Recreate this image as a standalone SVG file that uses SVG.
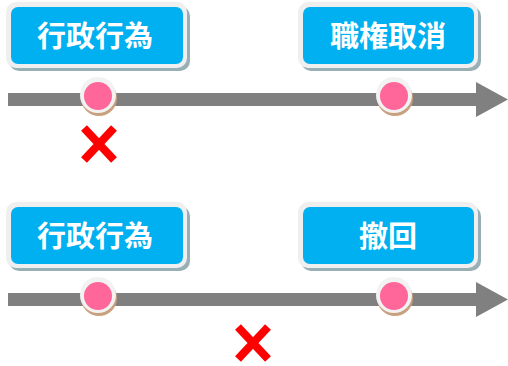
<svg xmlns="http://www.w3.org/2000/svg" width="508" height="366" viewBox="0 0 508 366">
<style>
.sh{fill:#98afb6}
.rim{fill:#efefef}
.box{fill:#00b0f0}
.lbl{font-family:"Noto Sans CJK JP","Noto Sans CJK SC",sans-serif;font-weight:bold;font-size:29px;fill:#ffffff;text-anchor:middle}
.bar{fill:#808080}
.dsh{fill:#c9a07e}
.dr{fill:#f2f2f2}
.dp{fill:#ff6699}
.x{stroke:#ff0000;stroke-width:8;fill:none}
</style>
<rect width="508" height="366" fill="#ffffff"/>
<g id="connectors">
<g id="arrow1">
<rect class="bar" x="8" y="93" width="470" height="13"/>
<polygon class="bar" points="476,82 508,99.5 476,117"/>
</g>
<g id="arrow2">
<rect class="bar" x="8" y="293" width="470" height="13"/>
<polygon class="bar" points="476,282 508,299.5 476,317"/>
</g>
</g>
<g id="box1">
<rect class="sh" x="9" y="6" width="181" height="65" rx="10"/>
<rect class="rim" x="6" y="2" width="181" height="66" rx="10"/>
<rect class="box" x="11" y="7" width="172" height="57" rx="7"/>
<text class="lbl" x="95" y="47">行政行為</text>
</g>
<g id="box2">
<rect class="sh" x="301" y="6" width="180" height="65" rx="10"/>
<rect class="rim" x="298" y="2" width="180" height="66" rx="10"/>
<rect class="box" x="303" y="7" width="171" height="57" rx="7"/>
<text class="lbl" x="388" y="47">職権取消</text>
</g>
<g id="box3">
<rect class="sh" x="9" y="206" width="181" height="65" rx="10"/>
<rect class="rim" x="6" y="202" width="181" height="66" rx="10"/>
<rect class="box" x="11" y="207" width="172" height="57" rx="7"/>
<text class="lbl" x="95" y="247">行政行為</text>
</g>
<g id="box4">
<rect class="sh" x="301" y="206" width="180" height="65" rx="10"/>
<rect class="rim" x="298" y="202" width="180" height="66" rx="10"/>
<rect class="box" x="303" y="207" width="171" height="57" rx="7"/>
<text class="lbl" x="388" y="247">撤回</text>
</g>
<g id="dot1">
<circle class="dsh" cx="99" cy="98" r="18"/>
<circle class="dr" cx="98" cy="95" r="18"/>
<circle class="dp" cx="98" cy="96" r="14"/>
</g>
<g id="dot2">
<circle class="dsh" cx="395" cy="98" r="18"/>
<circle class="dr" cx="394" cy="95" r="18"/>
<circle class="dp" cx="394" cy="96" r="14"/>
</g>
<g id="dot3">
<circle class="dsh" cx="99" cy="298" r="18"/>
<circle class="dr" cx="98" cy="295" r="18"/>
<circle class="dp" cx="98" cy="296" r="14"/>
</g>
<g id="dot4">
<circle class="dsh" cx="395" cy="298" r="18"/>
<circle class="dr" cx="394" cy="295" r="18"/>
<circle class="dp" cx="394" cy="296" r="14"/>
</g>
<g id="cross1">
<path class="x" d="M84,128 L114,160 M114,128 L84,160"/>
</g>
<g id="cross2">
<path class="x" d="M238,327 L268,359 M268,327 L238,359"/>
</g>
</svg>
